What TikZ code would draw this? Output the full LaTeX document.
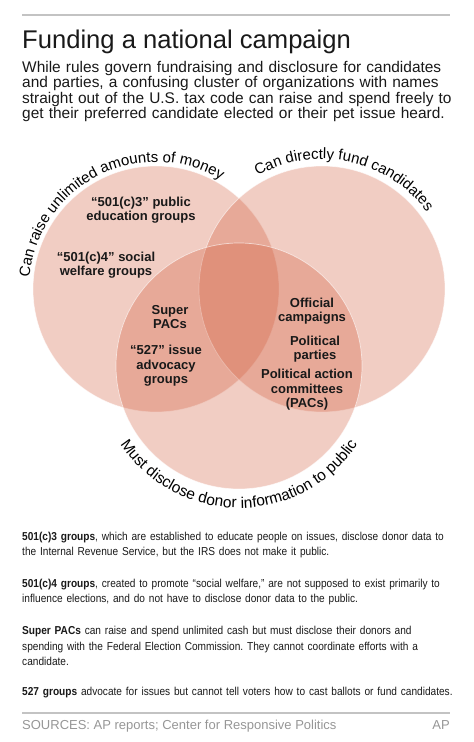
\documentclass[tikz,border=0pt]{standalone}
\usepackage{fontspec}
\setmainfont{Liberation Sans}
\newfontfamily\narrowfont[FakeStretch=0.88]{Liberation Sans}
\usepackage{xcolor}
\usepackage{tikz}
\usetikzlibrary{decorations.text}
\frenchspacing

\definecolor{venn}{RGB}{208,88,55}
\definecolor{rulegray}{RGB}{195,195,195}
\definecolor{srcgray}{RGB}{150,150,150}
\definecolor{ink}{RGB}{25,25,25}

\begin{document}
\begin{tikzpicture}[
    x=1pt, y=1pt,
    set/.style={fill=venn, fill opacity=0.3, draw=white, draw opacity=0.6, line width=0.7pt},
    group/.style={align=center, text=ink, inner sep=0pt, font=\bfseries\fontsize{13}{14.5}\selectfont},
    para/.style={anchor=base west, inner sep=0pt, text width=440pt, align=left, text=ink, font=\narrowfont\fontsize{11.5}{15.2}\selectfont},
    rim/.style={decorate, decoration={text along path, text align=center, text={#1}}},
]
\useasboundingbox (0,0) rectangle (474,742);

% Header
\draw [rulegray, line width=1.3pt] (22,727) -- (450,727);
\node (title) [anchor=base west, inner sep=0pt, text=ink, font=\fontsize{25.6}{28}\selectfont] at (22,693.7) {Funding a national campaign};
\node (intro) [anchor=base west, inner sep=0pt, text width=440pt, align=left, text=ink, font=\fontsize{15.45}{15.3}\selectfont] at (22,669.3)
  {While rules govern fundraising and disclosure for candidates\\
   and parties, a confusing cluster of organizations with names\\
   straight out of the U.S. tax code can raise and spend freely to\\
   get their preferred candidate elected or their pet issue heard.};

% Circles
\coordinate (money) at (156,453);
\coordinate (fund) at (322,453);
\coordinate (disclose) at (239,376);
\path [set] (money) circle [radius=123];
\path [set] (fund) circle [radius=123];
\path [set] (disclose) circle [radius=123];

% Circle labels
\path [rim={|\fontsize{15}{15}\selectfont|Can raise unlimited amounts of money}]
  (money) ++(177:127) arc [start angle=177, end angle=57, radius=127];
\path [rim={|\fontsize{15}{15}\selectfont|Can directly fund candidates}]
  (fund) ++(125:130) arc [start angle=125, end angle=31, radius=130];
\path [rim={|\fontsize{15.5}{15.5}\selectfont|Must disclose donor information to public}]
  (disclose) ++(205:142) arc [start angle=205, end angle=335, radius=142];

% Groups
\node (edu) [group] at (141,532) {“501(c)3” public\\education groups};
\node (welfare) [group] at (106,477) {“501(c)4” social\\welfare groups};
\node (super) [group] at (170,425) {Super\\PACs};
\node (issue) [group] at (166,376) {“527” issue\\advocacy\\groups};
\node (official) [group] at (312,431) {Official\\campaigns};
\node (parties) [group] at (315,393) {Political\\parties};
\node (pacs) [group] at (307,352) {Political action\\committees\\(PACs)};

% Notes
\node (note1) [para] at (22,201.3) {\textbf{501(c)3 groups}, which are established to educate people on issues, disclose donor data to\\the Internal Revenue Service, but the IRS does not make it public.};
\node (note2) [para] at (22,154.3) {\textbf{501(c)4 groups}, created to promote “social welfare,” are not supposed to exist primarily to\\influence elections, and do not have to disclose donor data to the public.};
\node (note3) [para] at (22,107) {\textbf{Super PACs} can raise and spend unlimited cash but must disclose their donors and\\spending with the Federal Election Commission. They cannot coordinate efforts with a\\candidate.};
\node (note4) [para] at (22,46) {\textbf{527 groups} advocate for issues but cannot tell voters how to cast ballots or fund candidates.};

% Footer
\draw [rulegray, line width=1.3pt] (22,29) -- (450,29);
\node (sources) [anchor=base west, inner sep=0pt, text=srcgray, font=\fontsize{13}{13}\selectfont] at (22,12.7) {SOURCES: AP reports; Center for Responsive Politics};
\node (credit) [anchor=base east, inner sep=0pt, text=srcgray, font=\fontsize{13}{13}\selectfont] at (450,12.7) {AP};
\end{tikzpicture}
\end{document}
